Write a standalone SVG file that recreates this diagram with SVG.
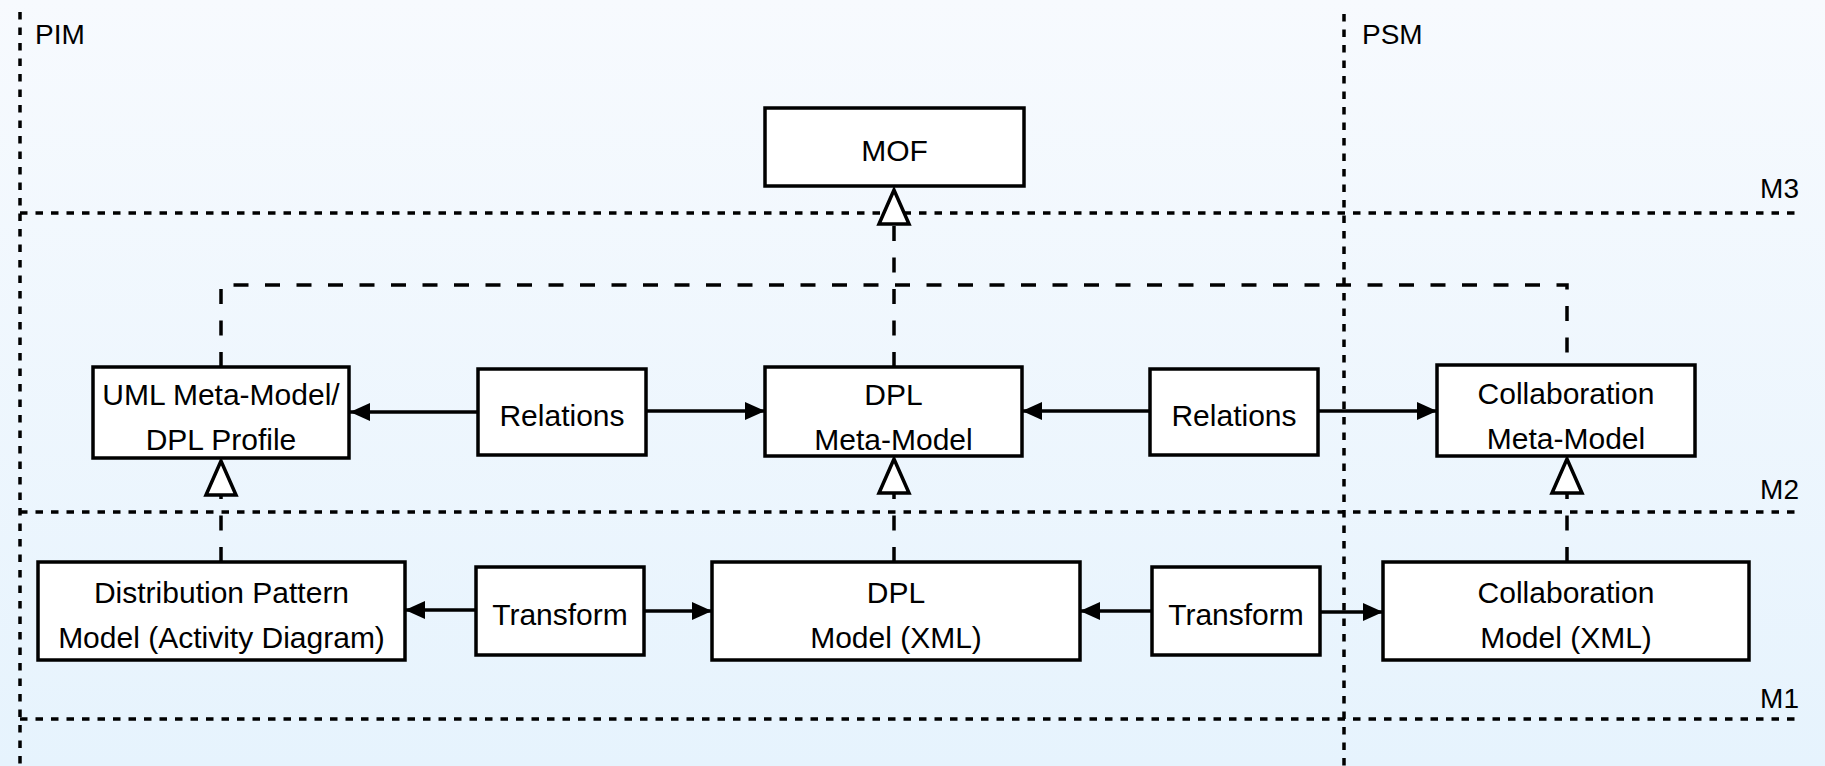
<svg xmlns="http://www.w3.org/2000/svg" width="1825" height="766" viewBox="0 0 1825 766">
<defs>
<linearGradient id="bg" x1="0" y1="0" x2="0" y2="1">
<stop offset="0" stop-color="#f7fafe"/>
<stop offset="1" stop-color="#e6f3fd"/>
</linearGradient>
<marker id="arr" viewBox="0 0 20 18" refX="20" refY="9" markerWidth="20" markerHeight="18" markerUnits="userSpaceOnUse" orient="auto">
<path d="M0,0 L20,9 L0,18 Z" fill="#000"/>
</marker>
<marker id="tri" viewBox="-3 -3 42 40" refX="36" refY="17" markerWidth="42" markerHeight="40" markerUnits="userSpaceOnUse" orient="auto">
<path d="M36,17 L2,2 L2,32 Z" fill="#fff" stroke="#000" stroke-width="3.5" stroke-linejoin="miter"/>
</marker>
</defs>
<style>
.layer{stroke:#000;stroke-width:3.5;stroke-dasharray:7.5 8;fill:none}
.dep{stroke:#000;stroke-width:3.5;stroke-dasharray:15 16.5;fill:none}
.rel{stroke:#000;stroke-width:3.5;fill:none}
.box{fill:#fff;stroke:#000;stroke-width:3.5}
.t{font-family:"Liberation Sans",Arial,sans-serif;font-size:30px;fill:#000;text-anchor:middle;dominant-baseline:central}
.lbl{font-family:"Liberation Sans",Arial,sans-serif;font-size:28px;fill:#000}
</style>
<rect width="1825" height="766" fill="url(#bg)"/>
<g id="layers">
<line class="layer" x1="20" y1="12" x2="20" y2="766"/>
<line class="layer" x1="1344" y1="14" x2="1344" y2="766"/>
<line class="layer" x1="20" y1="213" x2="1802" y2="213"/>
<line class="layer" x1="20" y1="512" x2="1802" y2="512"/>
<line class="layer" x1="20" y1="719" x2="1802" y2="719"/>
<text class="lbl" x="35" y="44">PIM</text>
<text class="lbl" x="1362" y="44">PSM</text>
<text class="lbl" x="1799" y="198" text-anchor="end">M3</text>
<text class="lbl" x="1799" y="499" text-anchor="end">M2</text>
<text class="lbl" x="1799" y="708" text-anchor="end">M1</text>
</g>
<g id="connectors">
<path class="dep" d="M221,367 V285 H1567 V365"/>
<path class="dep" d="M894,367 V190" marker-end="url(#tri)"/>
<path class="dep" d="M221,562 V461" marker-end="url(#tri)"/>
<path class="dep" d="M894,562 V459" marker-end="url(#tri)"/>
<path class="dep" d="M1567,562 V459" marker-end="url(#tri)"/>
<line class="rel" x1="478" y1="412" x2="350" y2="412" marker-end="url(#arr)"/>
<line class="rel" x1="646" y1="411" x2="765" y2="411" marker-end="url(#arr)"/>
<line class="rel" x1="1150" y1="411" x2="1022" y2="411" marker-end="url(#arr)"/>
<line class="rel" x1="1318" y1="411" x2="1437" y2="411" marker-end="url(#arr)"/>
<line class="rel" x1="476" y1="610" x2="405" y2="610" marker-end="url(#arr)"/>
<line class="rel" x1="644" y1="611" x2="712" y2="611" marker-end="url(#arr)"/>
<line class="rel" x1="1152" y1="611" x2="1080" y2="611" marker-end="url(#arr)"/>
<line class="rel" x1="1320" y1="612" x2="1383" y2="612" marker-end="url(#arr)"/>
</g>
<g id="mof">
<rect class="box" x="765" y="108" width="259" height="78"/>
<text class="t" x="894.5" y="150">MOF</text>
</g>
<g id="uml-meta">
<rect class="box" x="93" y="367" width="256" height="91"/>
<text class="t" x="221" y="394">UML Meta-Model/</text>
<text class="t" x="221" y="439">DPL Profile</text>
</g>
<g id="relations1">
<rect class="box" x="478" y="369" width="168" height="86"/>
<text class="t" x="562" y="415">Relations</text>
</g>
<g id="dpl-meta">
<rect class="box" x="765" y="367" width="257" height="89"/>
<text class="t" x="893.5" y="394">DPL</text>
<text class="t" x="893.5" y="439">Meta-Model</text>
</g>
<g id="relations2">
<rect class="box" x="1150" y="369" width="168" height="86"/>
<text class="t" x="1234" y="415">Relations</text>
</g>
<g id="collab-meta">
<rect class="box" x="1437" y="365" width="258" height="91"/>
<text class="t" x="1566" y="393">Collaboration</text>
<text class="t" x="1566" y="438">Meta-Model</text>
</g>
<g id="dist-model">
<rect class="box" x="38" y="562" width="367" height="98"/>
<text class="t" x="221.5" y="592">Distribution Pattern</text>
<text class="t" x="221.5" y="637">Model (Activity Diagram)</text>
</g>
<g id="transform1">
<rect class="box" x="476" y="567" width="168" height="88"/>
<text class="t" x="560" y="614">Transform</text>
</g>
<g id="dpl-model">
<rect class="box" x="712" y="562" width="368" height="98"/>
<text class="t" x="896" y="592">DPL</text>
<text class="t" x="896" y="637">Model (XML)</text>
</g>
<g id="transform2">
<rect class="box" x="1152" y="567" width="168" height="88"/>
<text class="t" x="1236" y="614">Transform</text>
</g>
<g id="collab-model">
<rect class="box" x="1383" y="562" width="366" height="98"/>
<text class="t" x="1566" y="592">Collaboration</text>
<text class="t" x="1566" y="637">Model (XML)</text>
</g>
</svg>
